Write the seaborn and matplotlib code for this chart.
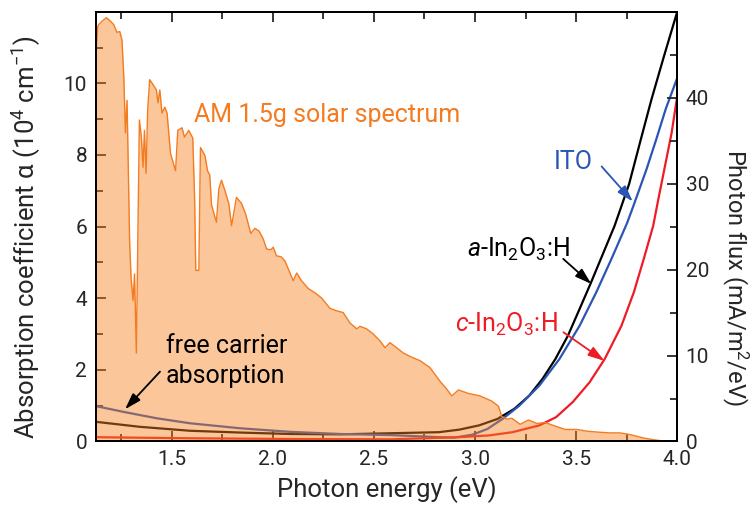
import matplotlib
matplotlib.use("Agg")
import matplotlib.pyplot as plt
from matplotlib.ticker import MultipleLocator, FormatStrFormatter
import pandas as pd
import seaborn as sns

# AM 1.5g photon flux (mA/m^2/eV)
solar_e = [1.12, 1.134, 1.139, 1.155, 1.177, 1.197, 1.213, 1.229, 1.243, 1.254,
           1.263, 1.271, 1.279, 1.282, 1.292, 1.299, 1.309, 1.316, 1.325, 1.332,
           1.340, 1.350, 1.358, 1.365, 1.373, 1.381, 1.391, 1.408, 1.424, 1.432,
           1.441, 1.452, 1.466, 1.477, 1.494, 1.519, 1.530, 1.551, 1.563, 1.584,
           1.604, 1.613, 1.619, 1.634, 1.642, 1.664, 1.677, 1.688, 1.697, 1.721,
           1.733, 1.746, 1.763, 1.782, 1.796, 1.820, 1.845, 1.865, 1.891, 1.911,
           1.931, 1.952, 1.969, 1.990, 2.002, 2.018, 2.040, 2.060, 2.076, 2.101,
           2.118, 2.142, 2.175, 2.208, 2.241, 2.282, 2.316, 2.348, 2.381, 2.415,
           2.431, 2.464, 2.497, 2.530, 2.555, 2.579, 2.613, 2.645, 2.678, 2.728,
           2.777, 2.827, 2.860, 2.885, 2.918, 2.966, 3.025, 3.083, 3.116, 3.132,
           3.157, 3.182, 3.223, 3.264, 3.306, 3.347, 3.396, 3.446, 3.504, 3.553,
           3.603, 3.668, 3.718, 3.767, 3.835, 3.884, 3.950, 4.0]
solar_f = [42.9, 48.3, 48.5, 48.9, 49.3, 48.9, 48.5, 47.6, 47.7, 46.7,
           42.4, 35.9, 39.7, 35.9, 23.0, 19.0, 16.4, 19.5, 10.3, 23.0,
           37.4, 35.4, 31.9, 36.2, 31.2, 38.6, 42.1, 41.5, 40.9, 39.4,
           40.9, 38.2, 38.9, 38.2, 33.5, 31.5, 36.2, 36.5, 35.4, 36.2,
           35.3, 28.4, 19.9, 19.9, 34.2, 33.3, 31.5, 31.0, 27.5, 25.5,
           29.4, 30.4, 29.2, 27.7, 25.1, 28.4, 27.7, 26.5, 24.2, 24.8,
           24.5, 23.6, 22.4, 22.3, 22.6, 21.6, 21.5, 21.0, 20.1, 18.7,
           19.6, 18.7, 17.8, 17.3, 16.7, 15.5, 15.2, 15.0, 13.8, 13.1,
           13.4, 13.1, 12.5, 11.7, 10.9, 11.5, 10.9, 10.3, 9.9, 9.4,
           8.6, 7.0, 6.1, 5.3, 6.0, 5.6, 5.3, 4.7, 4.1, 2.9,
           2.6, 2.7, 2.0, 2.5, 2.1, 2.2, 1.8, 1.4, 1.4, 1.2,
           1.1, 1.0, 1.0, 0.8, 0.4, 0.2, 0.0, 0.0]

# absorption coefficient (10^4 cm^-1) of the three films
a_ino_e = [1.124, 1.342, 1.589, 1.837, 2.084, 2.332, 2.579, 2.821, 2.921, 3.020,
           3.111, 3.194, 3.268, 3.334, 3.397, 3.459, 3.517, 3.570, 3.690, 3.762,
           3.815, 3.872, 3.934, 4.0]
a_ino_a = [0.55, 0.41, 0.30, 0.25, 0.21, 0.20, 0.23, 0.26, 0.33, 0.45,
           0.63, 0.91, 1.28, 1.75, 2.30, 2.95, 3.70, 4.39, 6.02, 7.19,
           8.33, 9.54, 10.75, 12.0]

ito_e = [1.124, 1.259, 1.424, 1.589, 1.837, 2.084, 2.332, 2.579, 2.821, 2.900,
         2.987, 3.061, 3.136, 3.219, 3.318, 3.417, 3.517, 3.599, 3.674, 3.752,
         3.786, 3.848, 3.897, 3.944, 4.0]
ito_a = [0.99, 0.83, 0.65, 0.51, 0.37, 0.27, 0.21, 0.18, 0.12, 0.11,
         0.19, 0.35, 0.63, 1.00, 1.56, 2.30, 3.23, 4.16, 5.09, 6.10,
         6.62, 7.60, 8.45, 9.30, 10.15]

c_ino_e = [1.124, 1.589, 2.084, 2.579, 2.921, 3.070, 3.185, 3.318, 3.401, 3.483,
           3.566, 3.641, 3.724, 3.785, 3.834, 3.881, 3.906, 3.972, 4.0]
c_ino_a = [0.12, 0.09, 0.07, 0.06, 0.12, 0.17, 0.26, 0.45, 0.68, 1.10,
           1.65, 2.30, 3.23, 4.16, 5.09, 6.02, 6.75, 8.61, 9.64]

sns.set_style("ticks")
plt.rcParams["font.family"] = ["Roboto", "DejaVu Sans"]
plt.rcParams["mathtext.fontset"] = "custom"
plt.rcParams["mathtext.rm"] = "Roboto"
plt.rcParams["mathtext.it"] = "Roboto:italic"

orange = "#f47b20"
blue = "#2b55b5"
red = "#ee1c25"

fig = plt.figure(figsize=(7.55, 5.12), dpi=100)
ax = fig.add_axes([0.1265, 0.1377, 0.7705, 0.8394])
ax2 = ax.twinx()

sns.lineplot(x=a_ino_e, y=a_ino_a, ax=ax, color="black", lw=1.6, estimator=None)
sns.lineplot(x=ito_e, y=ito_a, ax=ax, color=blue, lw=1.6, estimator=None)
sns.lineplot(x=c_ino_e, y=c_ino_a, ax=ax, color=red, lw=1.6, estimator=None)

# spectrum sits on the twin axis, so its translucent fill lies over the curves
solar = pd.DataFrame({"E": solar_e, "flux": solar_f})
ax2.fill_between(solar["E"], solar["flux"], color="#f58220", alpha=0.45, lw=0)
sns.lineplot(data=solar, x="E", y="flux", ax=ax2, color=orange, lw=1.0, estimator=None)

ax.set_xlim(1.123, 4.0)
ax.set_ylim(0, 12)
ax2.set_ylim(0, 50)

ax.xaxis.set_major_locator(MultipleLocator(0.5))
ax.xaxis.set_minor_locator(MultipleLocator(0.25))
ax.xaxis.set_major_formatter(FormatStrFormatter("%.1f"))
ax.set_yticks([0, 2, 4, 6, 8, 10])
ax.yaxis.set_minor_locator(MultipleLocator(1))
ax2.set_yticks([0, 10, 20, 30, 40])
ax2.yaxis.set_minor_locator(MultipleLocator(5))

ax.tick_params(axis="x", which="both", direction="in", top=True, labelsize=15, width=1.3, pad=6)
ax.tick_params(axis="y", which="both", direction="in", right=False, labelsize=15, width=1.3, pad=6)
ax2.tick_params(axis="y", which="both", direction="in", labelsize=15, width=1.3, pad=6)
for a in (ax, ax2):
    a.tick_params(which="major", length=7)
    a.tick_params(which="minor", length=5)
    for s in a.spines.values():
        s.set_linewidth(1.4)
        s.set_color("black")

ax.set_xlabel("Photon energy (eV)", fontsize=18.5, labelpad=5)
ax.set_ylabel("Absorption coefficient \u03b1 (10$^4$ cm$^{-1}$)", fontsize=18.5)
ax.yaxis.set_label_coords(-0.090, 0.476)
ax2.set_ylabel("Photon flux (mA/m$^2$/eV)", fontsize=17, rotation=270)
ax2.yaxis.set_label_coords(1.125, 0.383)

# labels and arrows, drawn above the spectrum
tr = ax.transData
ax2.text(1.610, 8.93, "AM 1.5g solar spectrum", color=orange, fontsize=18,
         ha="left", va="baseline", transform=tr)
ax2.text(1.472, 1.63, "free carrier\nabsorption", color="black", fontsize=18,
         ha="left", va="baseline", linespacing=1.3, transform=tr)
ax2.text(3.583, 7.81, "ITO", color=blue, fontsize=18, ha="right", va="center", transform=tr)
ax2.text(3.470, 5.16, r"$\mathit{a}$-In$_2$O$_3$:H", color="black", fontsize=18,
         ha="right", va="baseline", transform=tr)
ax2.text(3.410, 3.06, r"$\mathit{c}$-In$_2$O$_3$:H", color=red, fontsize=18,
         ha="right", va="baseline", transform=tr)

arrows = [
    ((1.442, 1.95), (1.269, 0.90), "black"),
    ((3.626, 7.68), (3.780, 6.70), blue),
    ((3.436, 5.10), (3.575, 4.40), "black"),
    ((3.437, 3.05), (3.640, 2.25), red),
]
for (tail, head, col) in arrows:
    ax2.annotate("", xy=head, xytext=tail, xycoords=tr, textcoords=tr,
                 arrowprops=dict(arrowstyle="-|>,head_length=0.7,head_width=0.22",
                                 color=col, lw=1.3, mutation_scale=14, shrinkA=0, shrinkB=0))

fig.savefig("out.png", dpi=100)
